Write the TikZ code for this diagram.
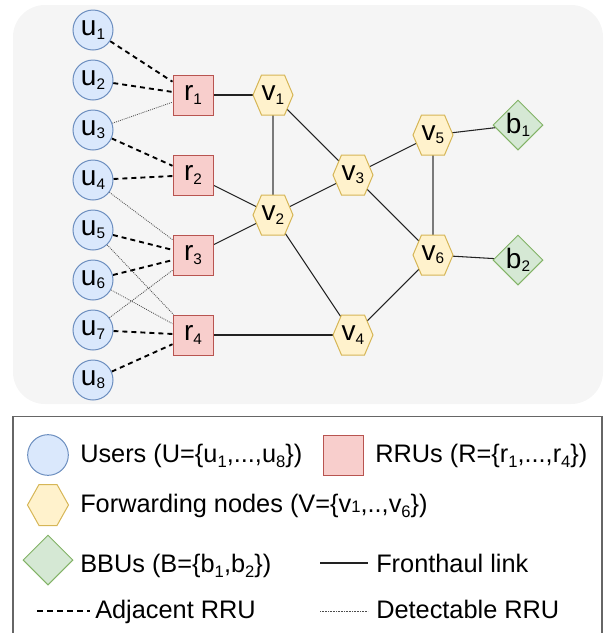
\documentclass[tikz,border=0pt]{standalone}
\usepackage{fontspec}
\setmainfont{Liberation Sans}
\usetikzlibrary{shapes.geometric}
\definecolor{bgfill}{HTML}{F5F5F5}
\definecolor{ufill}{HTML}{DAE8FC}
\definecolor{ustroke}{HTML}{6C8EBF}
\definecolor{rfill}{HTML}{F8CECC}
\definecolor{rstroke}{HTML}{B85450}
\definecolor{vfill}{HTML}{FFF2CC}
\definecolor{vstroke}{HTML}{D6B656}
\definecolor{bfill}{HTML}{D5E8D4}
\definecolor{bstroke}{HTML}{82B366}
\definecolor{linkcol}{HTML}{222222}
\definecolor{vertcol}{HTML}{7A7A7A}
\definecolor{boxcol}{HTML}{666666}
\newcommand\nfont{\fontsize{21}{21}\selectfont}
\newcommand\lfont{\fontsize{19}{19}\selectfont}
\newcommand\nsub[1]{\raisebox{-2.5pt}{\fontsize{11.5}{11.5}\selectfont #1}}
\newcommand\lsub[1]{\raisebox{-4pt}{\fontsize{12.5}{12.5}\selectfont #1}}
\newcommand\lsmall[1]{{\fontsize{12.5}{12.5}\selectfont #1}}
\pgfdeclarelayer{bglayer}
\pgfdeclarelayer{edgelayer}
\pgfdeclarelayer{shapelayer}
\pgfsetlayers{bglayer,edgelayer,shapelayer,main}
\begin{document}
\begin{tikzpicture}[x=0.75pt,y=-0.75pt,
  user/.style={circle,draw=ustroke,fill=ufill,line width=0.75pt,minimum size=30pt,inner sep=0pt,font=\nfont},
  rru/.style={rectangle,draw=rstroke,fill=rfill,line width=0.75pt,minimum size=30pt,inner sep=0pt,font=\nfont},
  fwd/.style={rectangle,minimum size=30pt,inner sep=0pt,font=\nfont},
  bbu/.style={diamond,aspect=1,draw=bstroke,fill=bfill,line width=0.75pt,minimum width=37.5pt,minimum height=37.5pt,inner sep=0pt,font=\nfont},
  hexdraw/.style={draw=vstroke,fill=vfill,line width=0.75pt},
  fronthaul/.style={draw=linkcol,line width=0.8pt},
  vertlink/.style={draw=vertcol,line width=1.3pt},
  adjacent/.style={draw=black,line width=1.4pt,dash pattern=on 3.75pt off 3pt},
  detect/.style={draw=black!70,line width=0.6pt,dash pattern=on 0.7pt off 0.8pt},
  legadj/.style={draw=black,line width=0.9pt,dash pattern=on 4.5pt off 3pt},
  legdet/.style={draw=black!70,line width=0.5pt,dash pattern=on 0.6pt off 0.6pt},
  legtext/.style={anchor=base west,inner sep=0pt,font=\lfont},
  legbox/.style={draw=boxcol,line width=1pt}]
\useasboundingbox (0,0) rectangle (605,633);
\begin{pgfonlayer}{bglayer}
\fill[bgfill,rounded corners=24pt] (13,5) rectangle (603,404);
\end{pgfonlayer}
% users
\node[user] (u1) at (93,30) {u\nsub{1}};
\node[user] (u2) at (93,80) {u\nsub{2}};
\node[user] (u3) at (93,130) {u\nsub{3}};
\node[user] (u4) at (93,180) {u\nsub{4}};
\node[user] (u5) at (93,230) {u\nsub{5}};
\node[user] (u6) at (93,280) {u\nsub{6}};
\node[user] (u7) at (93,330) {u\nsub{7}};
\node[user] (u8) at (93,380) {u\nsub{8}};
% RRUs
\node[rru] (r1) at (193,95) {r\nsub{1}};
\node[rru] (r2) at (193,175) {r\nsub{2}};
\node[rru] (r3) at (193,255) {r\nsub{3}};
\node[rru] (r4) at (193,335) {r\nsub{4}};
% forwarding nodes
\node[fwd] (v1) at (273,95) {v\nsub{1}};
\node[fwd] (v2) at (273,215) {v\nsub{2}};
\node[fwd] (v3) at (353,175) {v\nsub{3}};
\node[fwd] (v4) at (353,335) {v\nsub{4}};
\node[fwd] (v5) at (433,135) {v\nsub{5}};
\node[fwd] (v6) at (433,255) {v\nsub{6}};
% BBUs
\node[bbu] (b1) at (518,125) {b\nsub{1}};
\node[bbu] (b2) at (518,260) {b\nsub{2}};
\begin{pgfonlayer}{shapelayer}
\foreach \n in {v1,v2,v3,v4,v5,v6}{
  \filldraw[hexdraw] ([shift={(-20,0)}]\n.center) -- ([shift={(-11.5,-20)}]\n.center) -- ([shift={(11.5,-20)}]\n.center) -- ([shift={(20,0)}]\n.center) -- ([shift={(11.5,20)}]\n.center) -- ([shift={(-11.5,20)}]\n.center) -- cycle;
}
\end{pgfonlayer}
\begin{pgfonlayer}{edgelayer}
% fronthaul links
\draw[fronthaul] (r1.center) -- (v1.center);
\draw[vertlink] (v1.center) -- (v2.center);
\draw[fronthaul] (v1.center) -- (v3.center);
\draw[fronthaul] (r2.center) -- (v2.center);
\draw[fronthaul] (r3.center) -- (v2.center);
\draw[fronthaul] (v2.center) -- (v3.center);
\draw[fronthaul] (v2.center) -- (v4.center);
\draw[fronthaul] (r4.center) -- (v4.center);
\draw[fronthaul] (v3.center) -- (v5.center);
\draw[fronthaul] (v3.center) -- (v6.center);
\draw[vertlink] (v5.center) -- (v6.center);
\draw[fronthaul] (v4.center) -- (v6.center);
\draw[fronthaul] (v5.center) -- (b1.center);
\draw[fronthaul] (v6.center) -- (b2.center);
% adjacent RRUs
\draw[adjacent] (u1) -- (r1);
\draw[adjacent] (u2) -- (r1);
\draw[adjacent] (u3) -- (r2);
\draw[adjacent] (u4) -- (r2);
\draw[adjacent] (u5) -- (r3);
\draw[adjacent] (u6) -- (r3);
\draw[adjacent] (u7) -- (r4);
\draw[adjacent] (u8) -- (r4);
% detectable RRUs
\draw[detect] (u3) -- (r1);
\draw[detect] (u4) -- (r3);
\draw[detect] (u5) -- (r4);
\draw[detect] (u6) -- (r4);
\draw[detect] (u7) -- (r3);
\end{pgfonlayer}
% legend
\draw[legbox] (13,633) -- (13,416.5) -- (602,416.5) -- (602,633);
\node[user,minimum size=30.5pt] (lu) at (48,455) {};
\node[legtext] (lut) at (80,462) {Users (U=\{u\lsub{1},...,u\lsub{8}\})};
\node[rru] (lr) at (343,455) {};
\node[legtext] (lrt) at (375,462) {RRUs (R=\{r\lsub{1},...,r\lsub{4}\})};
\node[fwd] (lv) at (48,505) {};
\begin{pgfonlayer}{shapelayer}
\filldraw[hexdraw] ([shift={(-20.5,0)}]lv.center) -- ([shift={(-9,-20.5)}]lv.center) -- ([shift={(9,-20.5)}]lv.center) -- ([shift={(20.5,0)}]lv.center) -- ([shift={(9,20.5)}]lv.center) -- ([shift={(-9,20.5)}]lv.center) -- cycle;
\end{pgfonlayer}
\node[legtext] (lvt) at (80,512) {Forwarding nodes (V=\{v\lsmall{1},..,v\lsub{6}\})};
\node[bbu] (lb) at (48,560) {};
\node[legtext] (lbt) at (80,572) {BBUs (B=\{b\lsub{1},b\lsub{2}\})};
\coordinate (lf1) at (320,563);
\coordinate (lf2) at (368,563);
\draw[fronthaul] (lf1) -- (lf2);
\node[legtext] (lft) at (376,572) {Fronthaul link};
\coordinate (la1) at (37,611);
\coordinate (la2) at (90,611);
\draw[legadj] (la1) -- (la2);
\node[legtext] (lat) at (95,618) {Adjacent RRU};
\coordinate (ld1) at (320,611);
\coordinate (ld2) at (368,611);
\draw[legdet] (ld1) -- (ld2);
\node[legtext] (ldt) at (376,618) {Detectable RRU};
\end{tikzpicture}
\end{document}
